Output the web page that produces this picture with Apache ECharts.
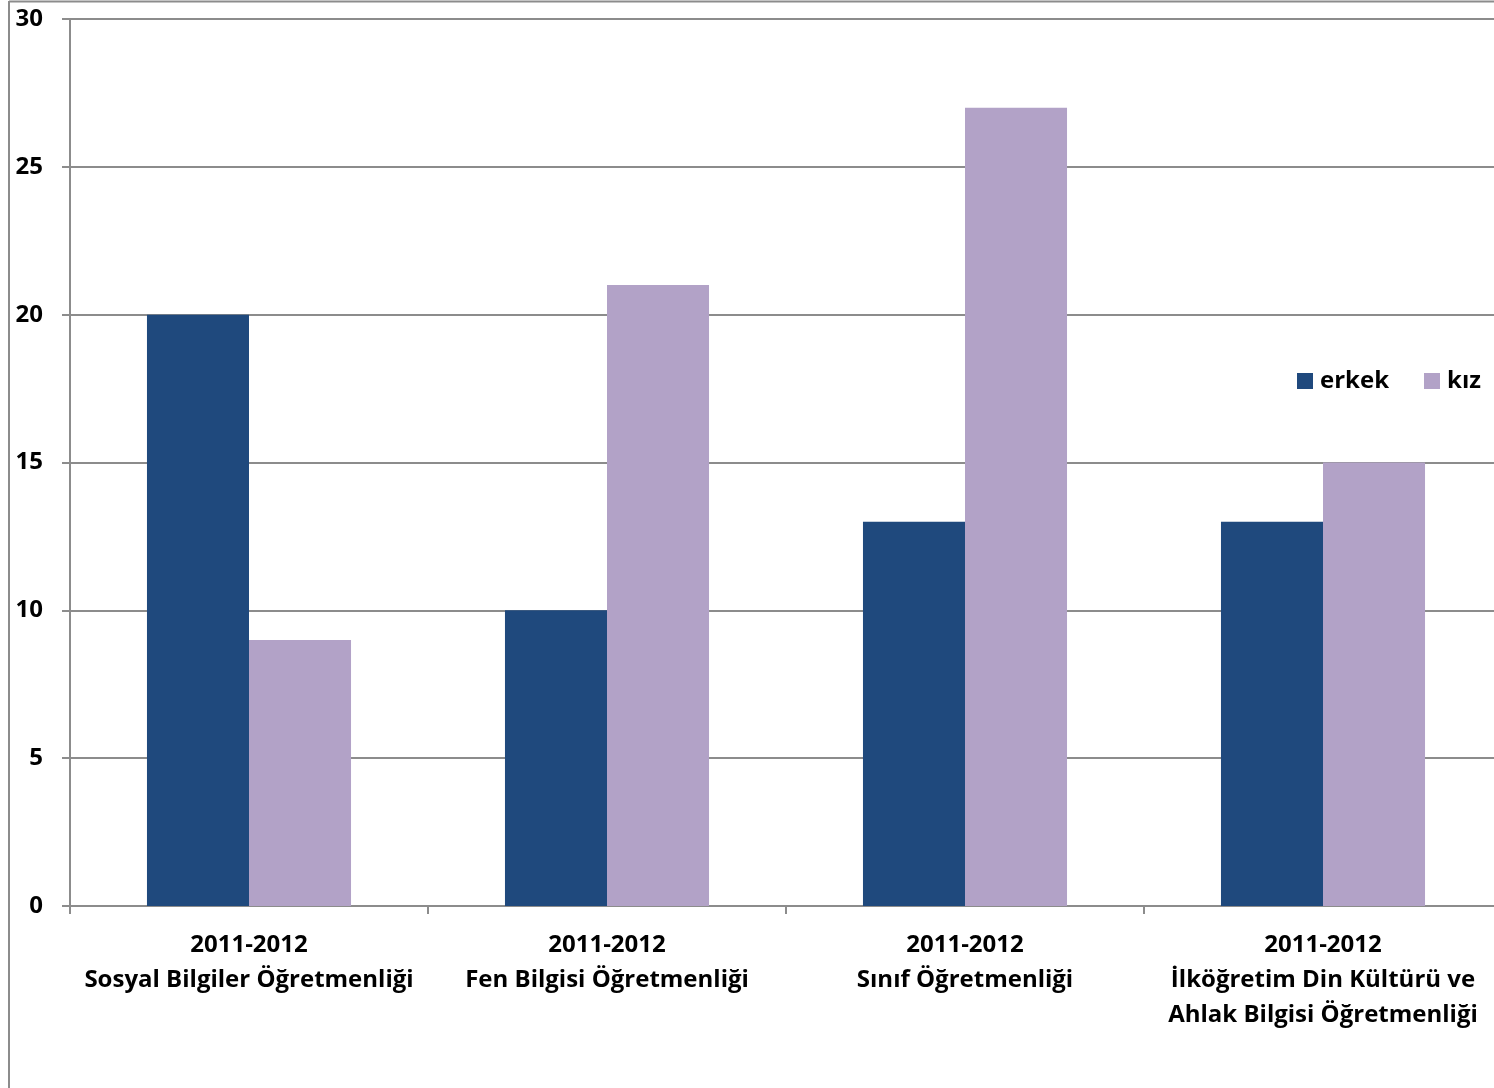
<!DOCTYPE html>
<html>
<head>
<meta charset="utf-8">
<script src="https://cdn.jsdelivr.net/npm/echarts@6/dist/echarts.min.js"></script>
<style>
html,body{margin:0;padding:0;background:#fff;}
#main{width:1494px;height:1088px;}
</style>
</head>
<body>
<div id="main"></div>
<script>
const categories = [
  "2011-2012\nSosyal Bilgiler Öğretmenliği",
  "2011-2012\nFen Bilgisi Öğretmenliği",
  "2011-2012\nSınıf Öğretmenliği",
  "2011-2012\nİlköğretim Din Kültürü ve\nAhlak Bilgisi Öğretmenliği"
];
const erkek = [20, 10, 13, 13];
const kiz = [9, 21, 27, 15];
const yTicks = { min: 0, max: 30, interval: 5 };

const FONT = "Open Sans";
const chart = echarts.init(document.getElementById('main'), null, { renderer: 'canvas' });
chart.setOption({
  backgroundColor: '#ffffff',
  animation: false,
  textStyle: { fontFamily: FONT },
  graphic: [
    { type: 'line', shape: { x1: 9, y1: 1.5, x2: 1494, y2: 1.5 }, style: { stroke: '#8c8c8c', lineWidth: 2 } },
    { type: 'line', shape: { x1: 9, y1: 1, x2: 9, y2: 1088 }, style: { stroke: '#8c8c8c', lineWidth: 2 } }
  ],
  legend: {
    left: 1292, top: 364,
    itemWidth: 16, itemHeight: 16, itemGap: 35,
    icon: 'rect',
    textStyle: { fontFamily: FONT, fontWeight: 'bold', fontSize: 24, color: '#000', padding: [0, 0, 0, 2] },
    data: ['erkek', 'kız']
  },
  grid: { left: 70, width: 1432, top: 19, bottom: 182, containLabel: false, outerBoundsMode: 'none' },
  xAxis: {
    type: 'category',
    data: categories,
    axisLine: { lineStyle: { color: '#8c8c8c', width: 2 } },
    axisTick: { show: true, length: 8, lineStyle: { color: '#8c8c8c', width: 2 } },
    axisLabel: {
      interval: 0, margin: 22,
      fontFamily: FONT, fontWeight: 'bold', fontSize: 24, color: '#000', lineHeight: 35
    }
  },
  yAxis: {
    type: 'value',
    min: yTicks.min, max: yTicks.max, interval: yTicks.interval,
    axisLine: { show: true, lineStyle: { color: '#8c8c8c', width: 2 } },
    axisTick: { show: true, length: 8, lineStyle: { color: '#8c8c8c', width: 2 } },
    splitLine: { lineStyle: { color: '#8c8c8c', width: 2 } },
    axisLabel: { margin: 27, fontFamily: FONT, fontWeight: 'bold', fontSize: 24, color: '#000' }
  },
  series: [
    { name: 'erkek', type: 'bar', data: erkek, barGap: '0%', barCategoryGap: '43%', itemStyle: { color: '#1f497d' } },
    { name: 'kız', type: 'bar', data: kiz, barGap: '0%', barCategoryGap: '43%', itemStyle: { color: '#b2a2c7' } }
  ]
});
</script>
</body>
</html>
